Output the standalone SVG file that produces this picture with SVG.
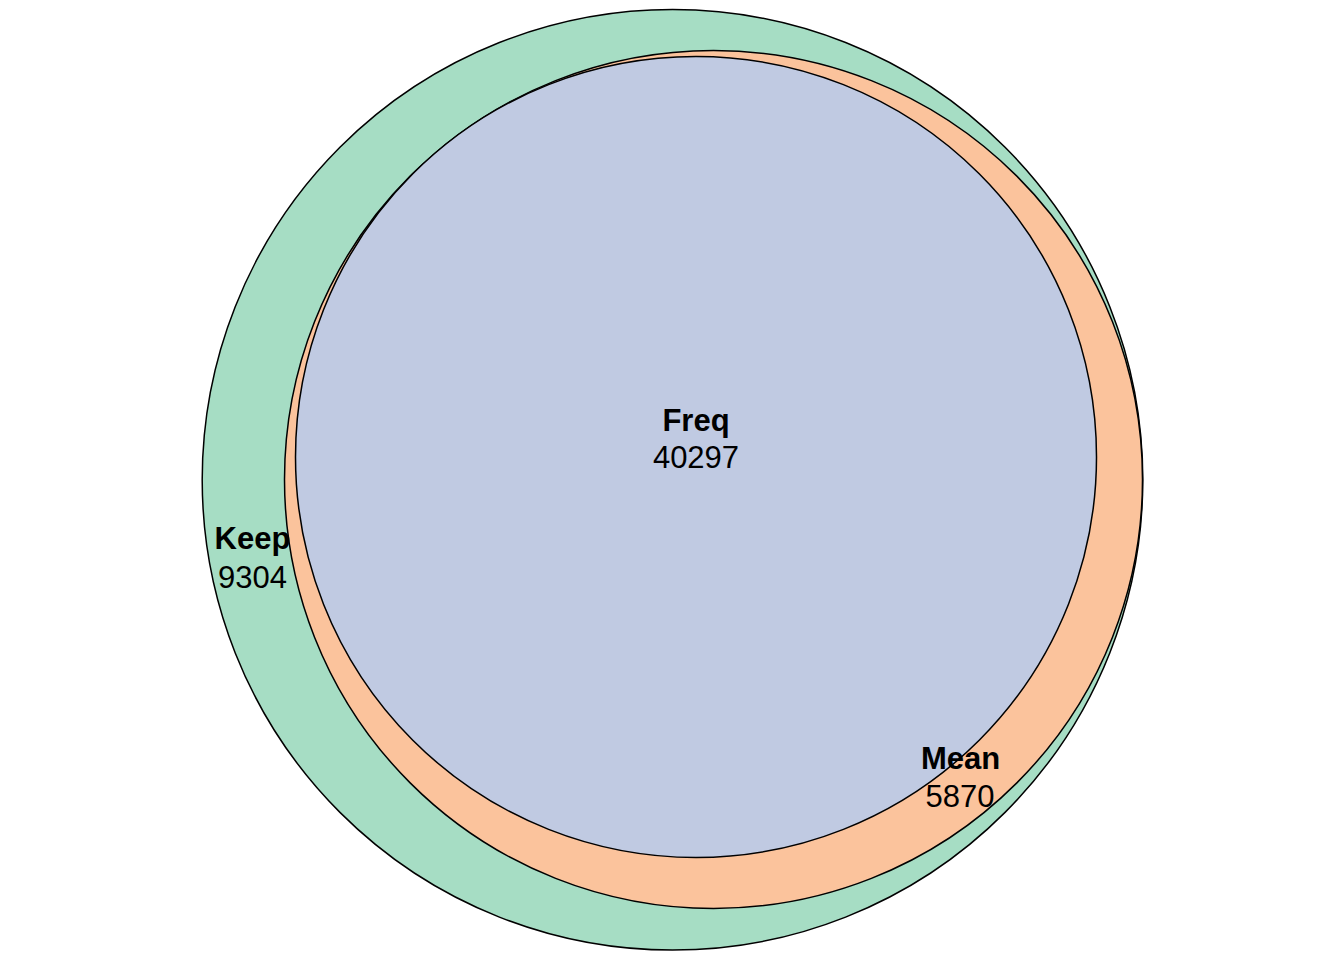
<svg xmlns="http://www.w3.org/2000/svg" width="1344" height="960" viewBox="0 0 1344 960">
<style>
.c{stroke:#000;stroke-width:1.5}
.b{font-family:"Liberation Sans",Arial,sans-serif;font-size:31px;font-weight:bold;text-anchor:middle;fill:#000}
.n{font-family:"Liberation Sans",Arial,sans-serif;font-size:31px;text-anchor:middle;fill:#000}
</style>
<rect width="1344" height="960" fill="#fff"/>
<g id="keep">
<circle class="c" cx="672.5" cy="479.8" r="470.3" fill="#a6ddc4"/>
</g>
<g id="mean">
<circle class="c" cx="713.5" cy="479.5" r="429" fill="#fbc39c"/>
</g>
<g id="freq">
<circle class="c" cx="696" cy="457" r="400.5" fill="#c0cae2"/>
</g>
<g id="labels">
<text class="b" x="696" y="431">Freq</text>
<text class="n" x="696" y="468">40297</text>
<text class="b" x="252.5" y="549">Keep</text>
<text class="n" x="252.5" y="588">9304</text>
<text class="b" x="960.5" y="769">Mean</text>
<text class="n" x="960" y="807">5870</text>
</g>
</svg>
